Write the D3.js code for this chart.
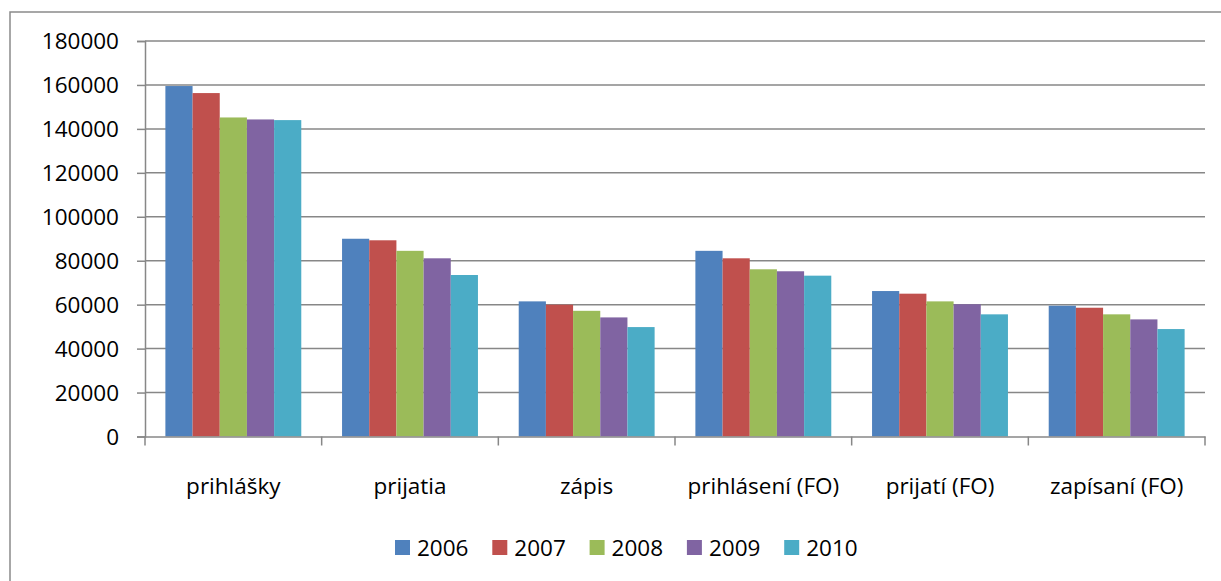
<!DOCTYPE html>
<html>
<head>
<meta charset="utf-8">
<script src="https://cdn.jsdelivr.net/npm/d3@7"></script>
<style>
	body { margin: 0; background: #fff; }
	text { font-family: "Open Sans", "Noto Sans", sans-serif; font-size: 22.5px; fill: #000; }
</style>
</head>
<body>
<div id="chart"></div>
<script>
var categories = ["prihlášky", "prijatia", "zápis", "prihlásení (FO)", "prijatí (FO)", "zapísaní (FO)"];
var years = ["2006", "2007", "2008", "2009", "2010"];
var colors = ["#4F81BD", "#C0504D", "#9BBB59", "#8064A2", "#4BACC6"];
var values2006 = [159500, 90000, 61500, 84500, 66200, 59500];
var values2007 = [156300, 89300, 60000, 81100, 65000, 58600];
var values2008 = [145200, 84500, 57200, 76100, 61500, 55600];
var values2009 = [144300, 81100, 54200, 75200, 60200, 53300];
var values2010 = [144000, 73500, 49800, 73200, 55600, 48900];
var yTicks = [0, 20000, 40000, 60000, 80000, 100000, 120000, 140000, 160000, 180000];

var series = [values2006, values2007, values2008, values2009, values2010];

var width = 1221, height = 581,
	plot = { left: 145, right: 1205, top: 41, bottom: 436.5 };

var svg = d3.select("#chart").append("svg")
	.attr("width", width)
	.attr("height", height);

// outer chart frame (right/bottom edges fall off the picture)
svg.append("rect")
	.attr("x", 10).attr("y", 12)
	.attr("width", 1240).attr("height", 600)
	.attr("fill", "none")
	.attr("stroke", "#8a8a8a")
	.attr("stroke-width", 1.5);

var x0 = d3.scaleBand()
	.domain(categories)
	.range([plot.left, plot.right])
	.paddingInner(0)
	.paddingOuter(0);

// gap width 150%: bars occupy 5 / 6.5 of each category
var groupW = x0.bandwidth() * 5 / 6.5;
var x1 = d3.scaleBand()
	.domain(years)
	.range([0, groupW]);

var y = d3.scaleLinear()
	.domain([0, 180000])
	.range([plot.bottom, plot.top]);

// gridlines
svg.selectAll("line.grid")
	.data(yTicks.slice(1))
	.enter().append("line")
	.attr("class", "grid")
	.attr("x1", plot.left).attr("x2", plot.right)
	.attr("y1", function(d) { return y(d); })
	.attr("y2", function(d) { return y(d); })
	.attr("stroke", "#878787")
	.attr("stroke-width", 1.5);

// bars
var groups = svg.selectAll("g.year")
	.data(series)
	.enter().append("g")
	.attr("class", "year")
	.attr("fill", function(d, i) { return colors[i]; });

groups.each(function(vals, si) {
	d3.select(this).selectAll("rect")
		.data(vals)
		.enter().append("rect")
		.attr("x", function(d, i) { return x0(categories[i]) + (x0.bandwidth() - groupW) / 2 + x1(years[si]); })
		.attr("width", x1.bandwidth())
		.attr("y", function(d) { return y(d); })
		.attr("height", function(d) { return plot.bottom - y(d); });
});

// y axis
var yAxis = svg.append("g")
	.attr("transform", "translate(" + plot.left + ",0)")
	.call(d3.axisLeft(y).tickValues(yTicks).tickSize(8).tickPadding(18).tickFormat(d3.format("d")));
yAxis.select(".domain").attr("stroke", "#878787").attr("stroke-width", 1.5);
yAxis.selectAll(".tick line").attr("stroke", "#878787").attr("stroke-width", 1.5);
yAxis.selectAll(".tick text")
	.attr("font-family", null).attr("font-size", null)
	.attr("dy", "0.35em");

// x axis
var xAxis = svg.append("g")
	.attr("transform", "translate(0," + plot.bottom + ")")
	.call(d3.axisBottom(x0).tickSize(0).tickPadding(42));
xAxis.select(".domain").attr("stroke", "#878787").attr("stroke-width", 1.5);
xAxis.selectAll(".tick text").attr("font-family", null).attr("font-size", null);

var bounds = [plot.left].concat(categories.map(function(c) { return x0(c) + x0.bandwidth(); }));
xAxis.selectAll("line.sep")
	.data(bounds)
	.enter().append("line")
	.attr("class", "sep")
	.attr("x1", function(d) { return d; }).attr("x2", function(d) { return d; })
	.attr("y1", 0).attr("y2", 9)
	.attr("stroke", "#878787")
	.attr("stroke-width", 1.5);

// legend
var legend = svg.append("g");
var item = legend.selectAll("g")
	.data(years)
	.enter().append("g")
	.attr("transform", function(d, i) { return "translate(" + (395 + i * 97.3) + ",540)"; });
item.append("rect")
	.attr("width", 15).attr("height", 15)
	.attr("fill", function(d, i) { return colors[i]; });
item.append("text")
	.attr("x", 22).attr("y", 15.5)
	.text(function(d) { return d; });
</script>
</body>
</html>
